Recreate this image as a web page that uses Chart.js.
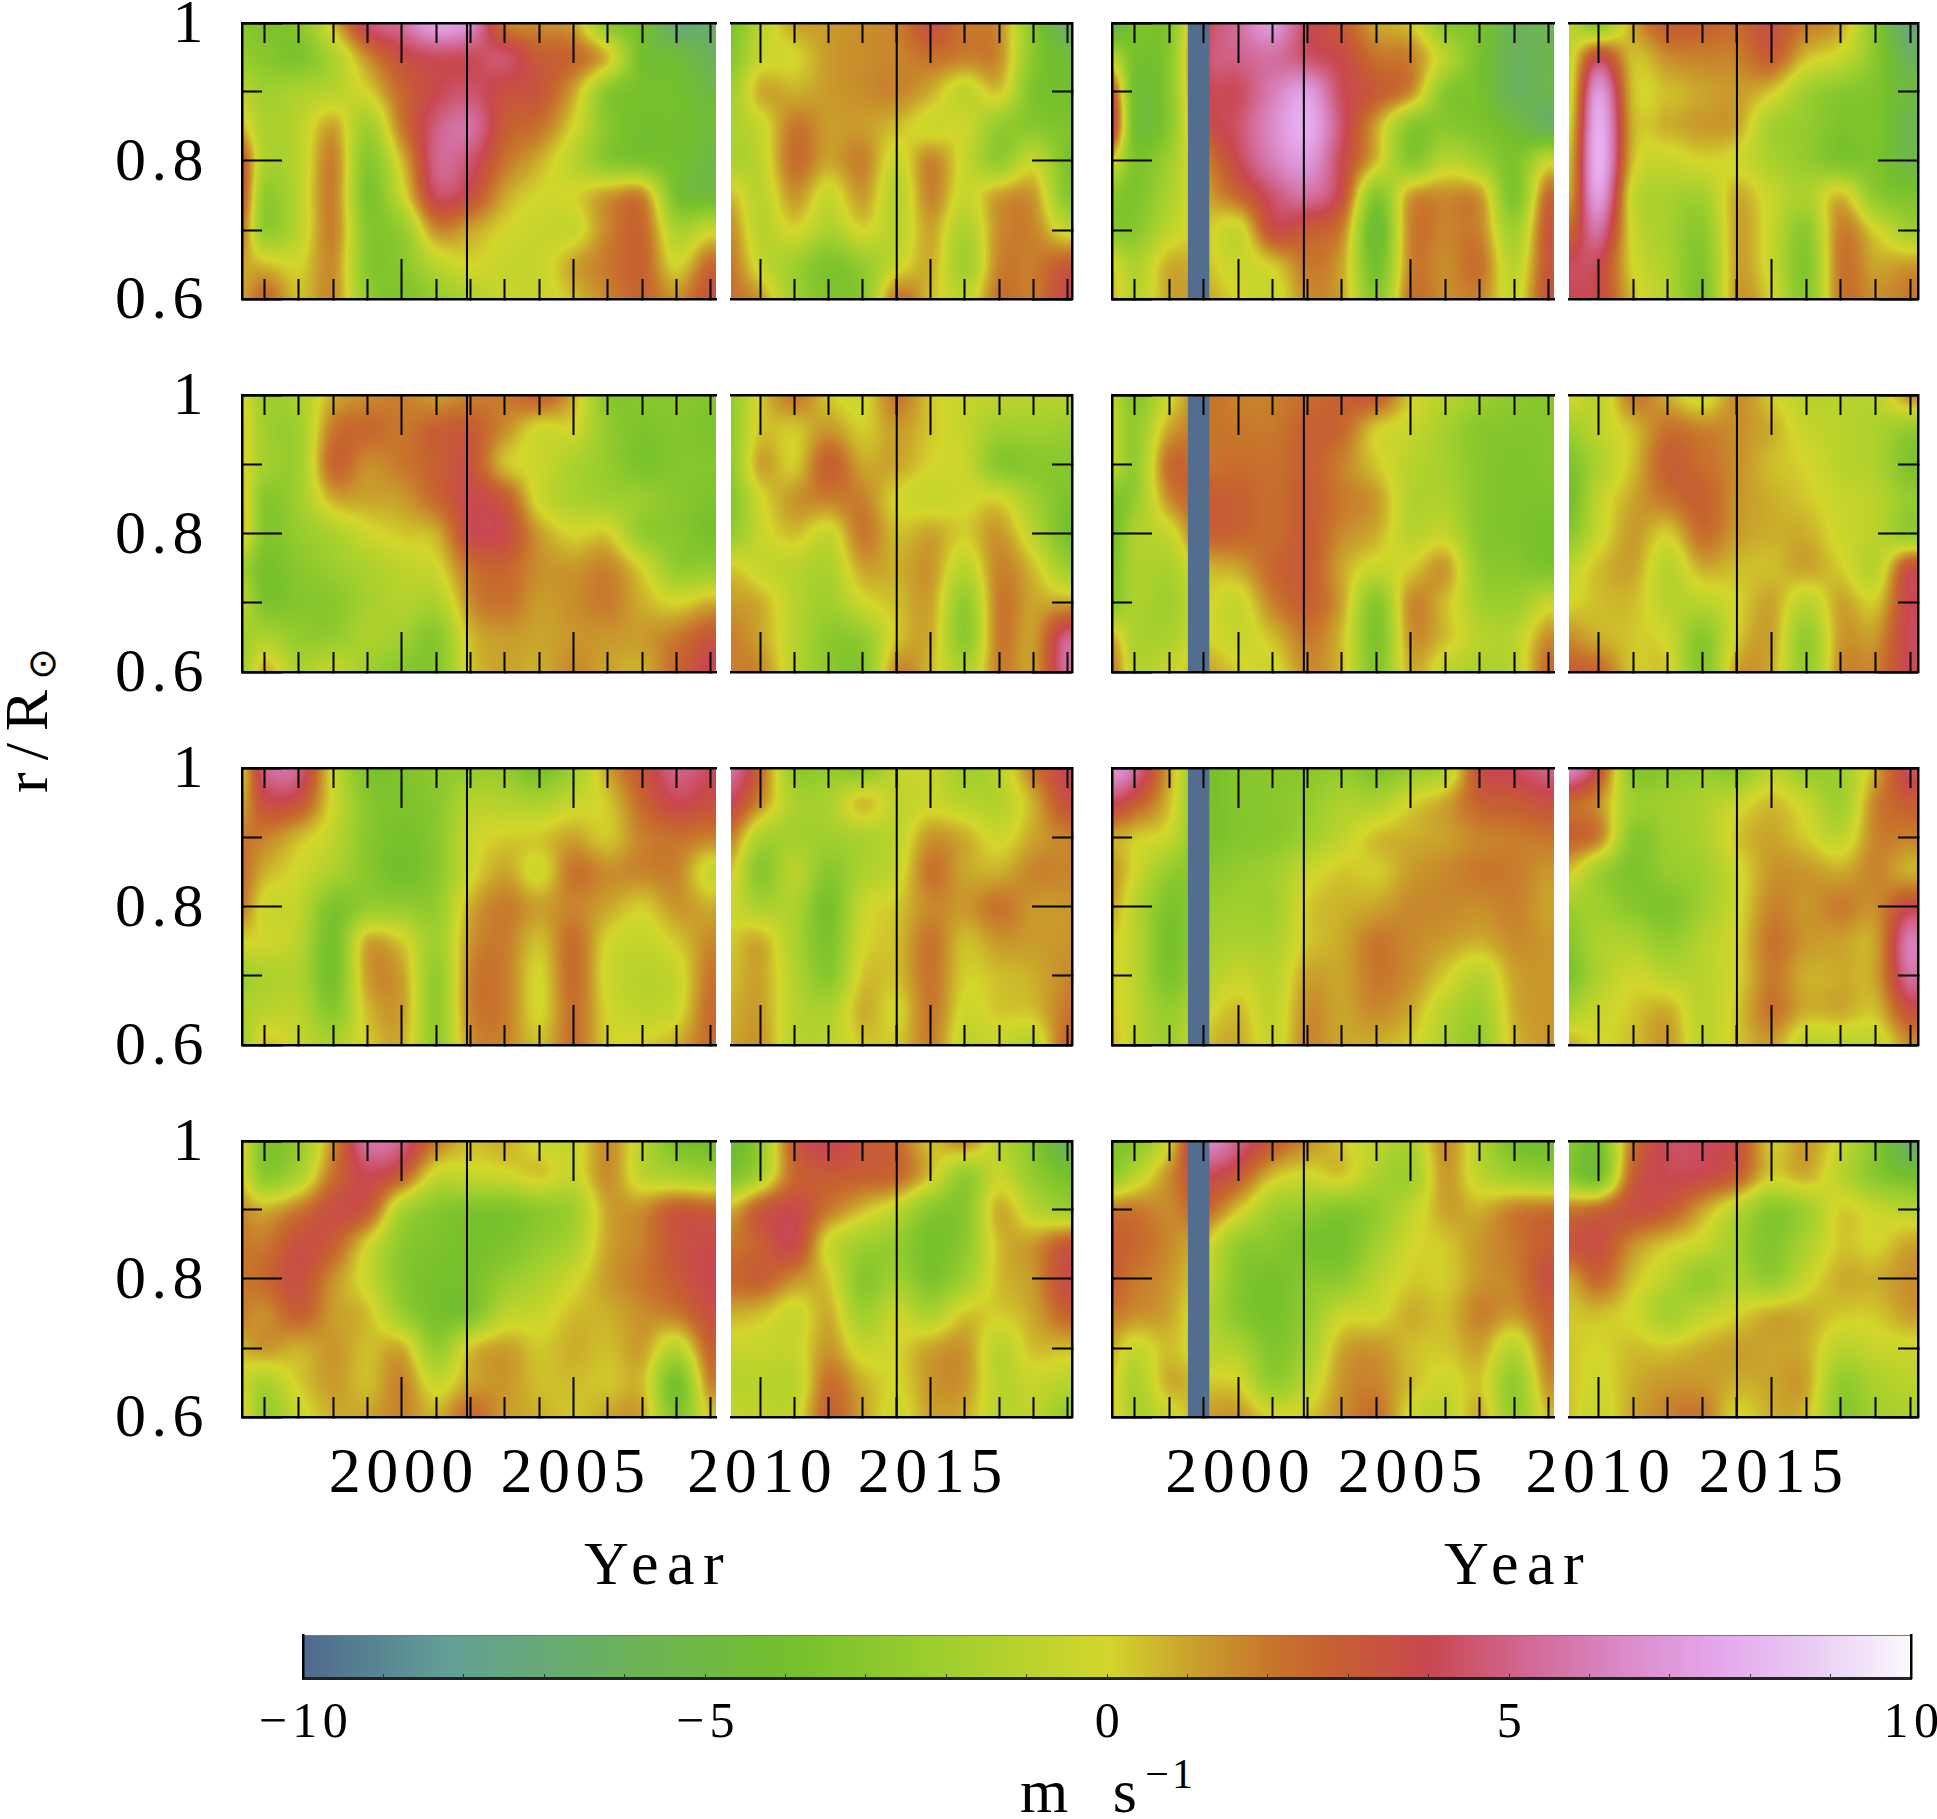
<!DOCTYPE html>
<html>
<head>
<meta charset="utf-8">
<style>
body { margin:0; background:#fff; width:1937px; height:1819px; overflow:hidden; position:relative; }
canvas { position:absolute; }
.lab { position:absolute; font-family:"Liberation Serif"; font-size:62px; letter-spacing:8.5px; color:#000; line-height:1; white-space:nowrap; }
.lab sup { font-size:42px; vertical-align:baseline; position:relative; top:-24px; letter-spacing:3px; }
.lab sub { font-family:"DejaVu Sans"; font-size:38px; vertical-align:baseline; position:relative; top:8px; left:-2px; }
</style>
<script src="https://cdn.jsdelivr.net/npm/chart.js@4"></script>
</head>
<body>
<div class="lab" id="ylab" style="left:0;top:0;transform-origin:0 0;transform:translate(-5px,793px) rotate(-90deg);letter-spacing:12px">r/R<sub>⊙</sub></div>
<div class="lab" style="left:584px;top:1532px">Year</div>
<div class="lab" style="left:1444px;top:1532px">Year</div>
<div class="lab" style="left:1020px;top:1760px;word-spacing:12px">m s<sup>−1</sup></div>
<script>
// radius rows, top to bottom
var radii = [1, 0.95, 0.9, 0.85, 0.8, 0.75, 0.7, 0.65, 0.6];
// time columns of the four kinds of panel
var leftYearsA = [1995.35, 1996, 1997, 1998, 1999, 2000, 2001, 2002, 2003, 2004, 2005, 2006, 2007, 2008, 2009];
var leftYearsB = [2009.14, 2010, 2011, 2012, 2013, 2014, 2015, 2016, 2017, 2018, 2019];
var rightYearsA = [1996.34, 1997, 1998, 1999, 2000, 2001, 2002, 2003, 2004, 2005, 2006, 2007, 2008, 2009];
var rightYearsB = [2009.15, 2010, 2011, 2012, 2013, 2014, 2015, 2016, 2017, 2018, 2019];
var cycleMaxima = [2001.9, 2014.0];
var dataGap = [1998.54, 1999.16];
var radiusTicksMinor = [0.7, 0.9];
var radiusTicksMajor = [0.6, 0.8, 1];
var yearTickLabels = [2000, 2005, 2010, 2015];
var colorTicks = [-10, -9, -8, -7, -6, -5, -4, -3, -2, -1, 0, 1, 2, 3, 4, 5, 6, 7, 8, 9, 10];
var colorTickLabels = [-10, -5, 0, 5, 10];
var colorValues = [-10, -8.2, -6, -3.9, -2, 0, 1, 2, 2.7, 4, 5.3, 6.5, 7.7, 8.8, 10];
var colorHex = ['#4f6a8f', '#62a096', '#6bb25a', '#75c02c', '#a0cf2e', '#d3d62b', '#c9a42b', '#c8772c', '#c6622f', '#c9474f', '#d26a98', '#da8cca', '#e6a9ee', '#e9cdf3', '#fbf8fe'];

// m/s
var r1LeftA = [
[-3,-3.5,-3,.5,4.5,5.5,7.5,6.5,2,1.5,1,-3,-4,-7,-6.5],
[-2.5,-3,-3.5,-1.5,1.5,3.5,4.2,4.2,4.5,3,2.5,.5,-4,-4.5,-6],
[-1,-2,-1.5,-1,0,2.5,4,4.5,3.5,3.2,1,-3,-3.8,-4,-5],
[.5,-1.5,-1,1,-2,2,4.8,5.5,3,2.2,0,-3,-4,-4,-4.5],
[3,-1.5,-1,1.8,-3,.5,5,4.5,2.2,.8,-1,-3,-3.5,-4,-5],
[3,-2.5,-1,1.8,-3.5,-.5,4.2,3.5,1,0,0,1.2,1.6,-3.8,-4.5],
[2,-2.5,-1,1.8,-3,-2.5,1.5,1,0,-.5,-.5,1.7,2.5,-1.5,-.5],
[1,.5,0,1.5,-3,-3,-1,0,-.5,-.5,1,2,2.7,0,2.5],
[1,2.5,.5,1.5,-2.5,-3.5,-2.5,-1.5,-.5,-.5,.5,1.7,2.6,1.5,3.5]];
var r1LeftB = [
[-3.5,-1,1,1.2,1.5,1.8,3.5,2,1.5,-3,-6.5],
[-3,-.5,0,1.2,1.5,1.7,2.2,1.8,1.5,-3,-4.5],
[-2,.8,.8,1.2,1.5,1.7,.8,-.8,.3,-3.5,-4],
[-1.5,-.5,2,1.2,1.2,.5,-.3,-.3,-2.5,-3,-3.5],
[-1.5,-.8,2.3,1,1.8,-.5,1.7,-.5,-2.5,-.5,-3.5],
[.5,-1,1.3,-.5,1.2,-1.2,1.7,-.5,1.1,1.2,-3],
[1.5,-1,0,-1.5,0,-1,1,-1.5,1.5,1.7,-.5],
[2,-.5,-2,-3.5,-2.5,-.5,.8,-2,1.7,1.9,3],
[2.2,1.2,-2,-3.3,-3,2,.5,-.8,2.2,1.9,4]];
var r1RightA = [
[-6,-3.5,-3.2,3.5,5.5,7,4.2,3,1,.3,-3,-3.5,-6,-5.5],
[-1,-3.8,-3,4,5,5.5,4.5,3.8,2.2,1.8,-1,-3.8,-6,-5.5],
[3,-4,-3,3.5,4.2,6,7.2,4.2,3,1.5,-3,-3.8,-6,-5.5],
[4,-4,-3,3,4.5,6.5,7.8,4.5,1,-3,-3,-3.5,-4.5,-6],
[0,-3.5,-2,1.5,4,6,7,4,.5,-3,-1,-2,-3.5,-.5],
[-3,-3.5,-1.5,.8,2.5,4.5,5.5,3.5,-3,1.1,1.5,1.2,-3.5,2.5],
[-3,-3,-.8,.3,-.5,3.5,3,1.8,-4.5,1.7,1.7,1.7,-2,3.2],
[0,-1.5,.8,.5,-.5,.3,2,1,-4,1.7,1.5,2.2,-1,3.2],
[.5,-1,1,1,0,-.5,1.5,1,-3,2.1,1.5,1.7,-.5,3.5]];
var r1RightB = [
[-1,-3,1,3,2.8,2.5,3.5,2,1,-3,-7.5],
[-.5,3.8,.5,1.5,1.8,1.8,2.8,.5,-.5,-3,-6],
[-.5,7,.5,.5,1,1.2,.3,-2,-3,-3.5,-5],
[0,7.8,.8,.8,1.2,1,-1.8,-2.5,-3.5,-3.5,-5.5],
[.5,8,.5,-.5,0,-.2,-1.5,-2.5,-3.5,-3.5,-5],
[1,7.2,-.5,-1.5,-1.8,.8,-.5,-1.5,.5,-2.8,-3.5],
[2.5,5.5,-.3,-1.8,-2.8,1,-.5,-2.8,1.8,0,-2],
[4.2,4,0,-1.5,-3.2,1,-.5,-3.2,2,1,1.2],
[4,3.8,.5,-1.2,-3.5,1.2,0,-3,2,1.5,2]];

var r2LeftA = [
[.2,-2,-1.5,.8,1.5,1.8,1.2,1.8,2,2.8,.8,-3,-3,-3,-3.2],
[.3,-2,-2,2,2.5,2,2.8,3,1.5,-.2,-.2,-2.5,-3.5,-3.2,-3.6],
[.3,-1.8,-2,2.5,1.5,2,2.8,3.3,.5,-.3,-1.5,-2.5,-3.6,-3.2,-3.2],
[.5,-3,-2,.8,1,1.2,2.5,3.8,3,-.3,-1.5,-2,-2.3,-3,-3.5],
[.5,-3.2,-2.5,-1.5,-.3,.3,.8,3.7,3.7,1.2,0,.2,-2.5,-3,-3.8],
[-2,-3.8,-3,-2.2,-1.5,-.8,-.2,2.2,2.6,1.5,1.3,1.7,0,-2.5,-2.5],
[-1,-3.5,-3.2,-3,-1.8,-1.2,-1.5,1.5,2.2,1.2,1.5,1.9,.8,0,.8],
[-2,-1.5,-2.5,-2.5,-1.5,-2,-3,.5,1.2,1,1.3,1.3,1.2,2,3.2],
[-2,.8,-1.5,-.5,-2,-3,-3.2,.3,1,.8,1.6,1,.8,2.5,4.2]];
var r2LeftB = [
[-2.5,.2,2,.3,-.2,2,.3,-.5,-.8,-1,-1.2],
[-2.5,.3,.3,1.3,.2,1.2,.3,-.6,-2,-2,-2.2],
[-2.5,1,.2,2.8,1,1,0,-.5,-3,-3,-3],
[-3,-.2,1.3,1.8,1.8,0,-.5,-.2,0,-2,-3.5],
[-2.5,-.5,.5,-.5,2,.5,1,.2,1.3,-1,-3.8],
[.3,-.5,-1,-1.5,1,.8,1.3,-1,1.7,.5,-2],
[1.2,.8,-1,-2,-.3,.5,1,-2.5,1.9,1,1],
[1.8,1,-1,-2.8,-2.5,.3,.8,-2.8,1.9,1.2,5],
[1.8,1.6,-1,-2.8,-3.2,1.5,.5,-1.5,1.8,1.2,5.5]];
var r2RightA = [
[-.8,-3,-.3,2,1.8,1.8,2.3,2.8,3,.2,-1,-2,-2.8,-3.2],
[-.8,-2.5,1,2,2,2,2.8,2.5,.2,-.5,-1.8,-3,-3.2,-3.2],
[-.8,-2.5,2.3,2.2,2.3,2.2,2.8,1.8,.3,-1,-1.8,-3,-3.5,-3.2],
[-3.5,-2.5,1.5,2.8,2.8,2.3,3,2,1.2,-1.2,-1.5,-3,-3.5,-3.5],
[-4,-1.5,-.5,2.5,2.6,2.3,3,1.6,.8,-1,-.6,-3,-3.5,-3.8],
[-3.5,-1.5,-1.5,.5,1,2.5,3,1,-.5,.2,1.2,-2.5,-3,-3.5],
[-3,-1.5,-2,0,-.5,1.8,2.8,1,-3,1.5,.5,-1.8,-2.2,-.5],
[.8,-1.5,-1.5,0,-.5,.5,2,.5,-3.5,1.3,.5,-1,-1,1.5],
[2,-1,-.5,1,.2,-.3,1.5,.5,-3.2,.8,-.8,-1.5,-1,2.5]];
var r2RightB = [
[0,-1,2,.8,-.5,1.5,.2,-1,-1,-1,1.5],
[-2,-.8,.5,2.2,1.8,1.5,.8,-.5,-1,-1.5,-2.5],
[-3.5,-1.5,.5,2.8,2.3,1.5,.5,0,-1,-1.5,-3.5],
[-4,-.8,1,2.1,2.8,1.4,.8,.3,-.5,-1,-2.5],
[-3,-.5,1.2,.2,2.3,1.2,.8,.8,-.3,-1,-2.5],
[-.8,.5,1,-1,.8,.5,.5,1,.2,-1,3.5],
[0,.5,.5,-1,-1,0,1,-1,1,.3,4],
[1.5,.8,.3,-.3,-3,.2,1,-2.5,1.2,1.3,4.2],
[2.8,2.5,.3,.2,-3.2,1,.8,-2.5,1.5,1.8,4.2]];

var r3LeftA = [
[.2,5,5,-.3,-3.5,-3.5,-2.8,-2.5,-2.5,-3.8,-2,1,3.2,5,4.2],
[1,3.5,3.3,-.2,-3,-3.5,-3,-1.2,-1.2,-1.5,-.5,.3,2.5,4,3.5],
[2,1.8,.6,-.8,-3,-3.8,-3,-.5,.2,.3,1,.3,1.8,2.2,1.8],
[2.2,.8,-.2,-1.5,-3,-4,-3,-.3,1,-.2,2.1,1.5,1.7,1.7,-.5],
[1.8,-.3,-.8,-3.5,-2.5,-2.5,-2.5,.8,1.9,1.1,1.7,1,.2,1.3,.8],
[0,-.2,-1,-3.8,.8,.2,-2,1.3,1.9,.5,2.3,0,-.6,.3,1.6],
[-2,-1.5,-1.5,-3.8,1.1,1.1,-2.5,1.7,1.9,0,2.4,-.3,-1,-.5,2.1],
[-1.5,-1,-1,-3,.5,1.1,-2.5,1.7,1.9,0,2.2,0,-.8,-.3,2.4],
[-2,.3,-.5,-1.5,.2,.8,-2.5,1.3,1.7,.5,2.2,.2,.2,.8,2.4]];
var r3LeftB = [
[5.5,2.5,-2.5,-2.5,-3,-.8,-.5,-2,-1,2,4.2],
[4,1.5,-1.5,-1.5,.5,-.8,-.3,-1,-1.2,.8,3.5],
[1.8,-1.5,-1.8,-2,-1.5,-.8,1.3,.8,-.3,1,1.8],
[.3,-3,-1,-3,-1.5,-.5,2.1,1,.8,1.7,1.7],
[-.3,-1.5,-1.5,-3.8,-.5,.3,1.6,1.3,2.1,1.3,1.3],
[.3,.8,-1.5,-3.5,-.2,.5,2.1,.5,1.3,1.2,1.3],
[.5,1,-1.2,-3,.3,.5,2.1,.2,.5,.8,1.6],
[.8,1.1,-1,-1.5,.8,0,2,-.2,.3,.5,2],
[1,1.3,-1,-1,.3,.3,1.8,-.8,-.5,-1,2.6]];
var r3RightA = [
[7,5.5,1,-3.5,-3.2,-3,-3,-2.5,-3.5,-2.5,-1.5,3.5,4.2,5],
[4.2,3,.5,-3.5,-3.2,-3,-2.5,-1.5,-1.5,0,1,2.7,3,3.5],
[1,.3,-.5,-3.5,-3.2,-3,-2,-.8,.5,.8,1.1,1.7,1.9,2.1],
[1.3,-.2,-2.5,-3,-2.5,-2,-.5,.3,.2,1.2,1.6,2,1.9,1.3],
[1,-1,-3.5,-2.5,-2,-2,.2,.7,1,1.6,1.6,1.5,1.8,1],
[.2,-1,-3.8,-2,-1.5,-1.5,.3,.9,2,1.6,1.2,.8,1.5,1.3],
[.2,-1,-3.5,-1.5,-.5,-1,1,1,2,1.5,.2,-1,1,1.3],
[.3,-.8,-2.5,-.5,.5,-.8,1.5,1,1.6,.9,-1,-2,.8,1.3],
[.5,-.8,-2,.3,.9,-.5,1.6,.9,.8,.2,-1.5,-2.5,.5,1.3]];
var r3RightB = [
[6.5,3.5,-3,-3,-2.5,-3,-1,-2.5,-2,.8,4.5],
[2.5,1.5,-2,-2,-1.5,-.5,.5,-.5,-2,1.7,3],
[2.7,1.8,-3,-2.2,-1.5,.3,1,.2,-.8,1.7,1.8],
[.3,-2,-3.5,-2.5,-2,-.3,1.3,1.3,.9,1.7,.8],
[-2,-2,-3,-3.5,-2,-.3,1.7,1.3,1.9,1.5,3.8],
[-3,-1.5,-1.5,-2.5,-1.2,0,2.1,1.3,1.1,1.1,6],
[-3.5,-1.5,-.2,-1,-1,0,1.9,.8,.9,1.1,5.5],
[-1.5,-.5,.3,.8,-1,.3,2.1,.8,.9,.5,3.5],
[.8,0,.5,1.3,-.8,.3,1.1,-1,-1,-.8,1.5]];

var r4LeftA = [
[.2,-3.5,-2.5,1.5,5.5,5,2,.5,.8,-.3,-.5,1.5,-1,-3.5,-4],
[0,-2.8,-1.5,2.2,4,2.8,-.5,-.5,-.3,.3,-.5,1.5,-.8,-1.5,-2],
[1.5,.8,2,3.5,3,-1.5,-3,-3.5,-3.5,-2.8,-2,1,1.5,3,2.8],
[2,2,3.5,2.8,0,-2.8,-3.5,-3.8,-3.5,-2.5,-1.5,1,1.8,3.3,3.8],
[2,2.5,3.5,1.5,-.5,-3,-3.8,-3.8,-2.5,-1.5,-.3,1.2,2,3,4],
[1.8,1.5,2.8,1.2,.5,-2.2,-3.8,-3.5,-1,-.5,.5,.8,1.5,2,3.5],
[.8,1.3,.8,1.3,.5,.8,-2.5,.3,1.1,.3,.8,.5,1.1,-1,2.7],
[-.5,-1.5,.2,1.2,.5,1.7,-.5,1,1.3,.5,.5,.3,.5,-3.8,1.8],
[.3,-2.5,-.5,.8,1,1.7,.8,2.5,1.2,.8,.3,1,1,-3.2,.3]];
var r4LeftB = [
[-4.5,-2.5,3,4.2,3.2,2.5,.5,1.5,-1,-3,-6],
[-3.5,-1.5,2.5,3,2.8,2.5,.3,-2.5,-.5,-2.5,-3.8],
[.8,3,3.8,2,.5,-.8,-3,-3,.8,-1,-2],
[2,2.8,3.8,-.3,-2,-2.5,-3.8,-2.8,.5,1.3,3],
[2.5,2.8,1.5,.3,-3,-2,-3.5,-2,.5,1.3,3.7],
[.8,.5,-.5,.8,-2,-.5,-1.5,.3,.2,1,2.7],
[-.5,-.5,-.5,1.3,-.5,0,1,1.3,-1,.5,.5],
[-1,-1,-1,2.2,.8,0,1.3,1.3,-1,-.5,-1],
[-.5,-.8,-.5,2.7,1.1,-.3,1,.8,-1,-.8,-2.5]];
var r4RightA = [
[-3.5,-3,0,6,5,3,1.5,.3,-.8,-1.5,1.5,-1.2,-3.8,-4],
[-2.5,-1,1.5,4,3,.5,-.2,.3,-1.5,-2,1.2,-.8,-2,-2.5],
[2,2,1.6,2.5,.3,-2,-2.5,-3.2,-2.5,-.8,1,.8,1.8,2.2],
[2.8,2.5,1.6,.3,-2.5,-3,-3.8,-3.8,-2,-.2,.3,1.3,2,3],
[2.8,2,1.3,-.3,-3,-3.8,-3,-2.8,-1,.2,.2,1.3,1.8,3.5],
[2,1.5,1,-1,-3,-3.8,-2.5,-.5,-.2,.8,.5,1.8,1.3,2.8],
[.8,-.5,.5,-.8,-1.5,-3.3,-2,.9,1.3,.5,.3,1,-1,2.2],
[.3,-1.5,.8,.3,0,-2.5,-1,1.3,1.7,.5,-.3,.3,-2.5,1.5],
[.3,-1.5,-.5,1,1.3,0,.3,1.5,2.2,-.2,-1,.8,-2.5,.5]];
var r4RightB = [
[-3,-3.8,2,4.2,4.2,3.5,.3,1.2,-.5,-3,-6.5],
[-3,-3.8,2.8,4,3.8,2.8,.2,.8,-1,-3,-4],
[2,2.5,3.5,3,1,-1,-3,-2,.2,-.5,-1],
[3.2,3.5,1.5,.3,-.5,-2,-3.2,-1.5,.3,0,1],
[1,2.5,.5,-1,-2.5,-1.5,-2.5,-.5,.8,.8,1.5],
[.3,.5,-.2,-1.8,-.8,0,.8,.8,.3,.3,1.2],
[.3,0,.5,.3,.8,1.1,1,.8,-1,-.5,-.3],
[.3,-.2,.8,1.3,1.3,.8,1,1,-2.5,-1.5,-1],
[.3,-.5,1,1.8,2,0,.8,.5,-3,-2,-1.5]];

var colorRgb = colorHex.map(function (h) {
  return [parseInt(h.slice(1, 3), 16), parseInt(h.slice(3, 5), 16), parseInt(h.slice(5, 7), 16)];
});

function colorOf(v) {
  var n = colorValues.length;
  if (v <= colorValues[0]) return colorRgb[0];
  if (v >= colorValues[n - 1]) return colorRgb[n - 1];
  var i = 0;
  while (v > colorValues[i + 1]) i++;
  var t = (v - colorValues[i]) / (colorValues[i + 1] - colorValues[i]);
  var a = colorRgb[i], b = colorRgb[i + 1];
  return [a[0] + (b[0] - a[0]) * t, a[1] + (b[1] - a[1]) * t, a[2] + (b[2] - a[2]) * t];
}

function findCell(list, v) {
  // list is monotonic, up or down
  var sign = list[1] > list[0] ? 1 : -1;
  var i = 0;
  while (i < list.length - 2 && sign * v > sign * list[i + 1]) i++;
  var t = (v - list[i]) / (list[i + 1] - list[i]);
  return [i, Math.max(0, Math.min(1, t))];
}

function cubic(a, b, c, d, t) {
  return b + 0.5 * t * (c - a + t * (2 * a - 5 * b + 4 * c - d + t * (3 * (b - c) + d - a)));
}

function shade(g, r, rt, c, ct) {
  var nr = g.length - 1, nc = g[0].length - 1, vals = [];
  for (var k = -1; k <= 2; k++) {
    var row = g[Math.max(0, Math.min(nr, r + k))];
    vals.push(cubic(row[Math.max(0, c - 1)], row[c], row[c + 1], row[Math.min(nc, c + 2)], ct));
  }
  return cubic(vals[0], vals[1], vals[2], vals[3], rt);
}

// paints the cells of the panel behind the datasets, positions come from the scales
var heatPlugin = {
  id: 'heat',
  beforeDatasetsDraw: function (chart, args, opts) {
    if (!opts.grid) return;
    var area = chart.chartArea, sx = chart.scales.x, sy = chart.scales.y, ctx = chart.ctx;
    var x0 = Math.round(area.left), y0 = Math.round(area.top);
    var w = Math.round(area.right) - x0, h = Math.round(area.bottom) - y0;
    var off = document.createElement('canvas');
    off.width = w; off.height = h;
    var octx = off.getContext('2d');
    var img = octx.createImageData(w, h);
    for (var py = 0; py < h; py++) {
      var rc = findCell(radii, sy.getValueForPixel(y0 + py + 0.5));
      for (var px = 0; px < w; px++) {
        var yc = findCell(opts.years, sx.getValueForPixel(x0 + px + 0.5));
        var col = colorOf(shade(opts.grid, rc[0], rc[1], yc[0], yc[1]));
        var k = (py * w + px) * 4;
        img.data[k] = col[0]; img.data[k + 1] = col[1]; img.data[k + 2] = col[2]; img.data[k + 3] = 255;
      }
    }
    octx.putImageData(img, 0, 0);
    ctx.drawImage(off, x0, y0);
    if (opts.gap) {
      var ga = sx.getPixelForValue(dataGap[0]), gb = sx.getPixelForValue(dataGap[1]);
      ctx.fillStyle = '#536d8f';
      ctx.fillRect(ga, y0, gb - ga, h);
    }
  }
};

// colorbar fill from the same stops
var barPlugin = {
  id: 'bar',
  beforeDatasetsDraw: function (chart, args, opts) {
    if (!opts.on) return;
    var a = chart.chartArea, sx = chart.scales.x, ctx = chart.ctx;
    var grad = ctx.createLinearGradient(sx.getPixelForValue(-10), 0, sx.getPixelForValue(10), 0);
    colorValues.forEach(function (v, i) { grad.addColorStop((v + 10) / 20, colorHex[i]); });
    ctx.fillStyle = grad;
    ctx.fillRect(a.left, a.top, a.right - a.left, a.bottom - a.top);
  }
};

var spacingPlugin = {
  id: 'spacing',
  // scales are fitted to zero size, labels get clipped to the box unless it is opened up again
  afterLayout: function (chart) {
    Object.keys(chart.scales).forEach(function (id) {
      var s = chart.scales[id];
      if (!s.options.ticks.display) return;
      if (s.options.position == 'bottom') { s.bottom = chart.height; s.height = s.bottom - s.top; }
      if (s.options.position == 'left') { s.left = 0; s.width = s.right; }
    });
  },
  beforeDraw: function (chart) { chart.ctx.letterSpacing = '5.5px'; }
};

Chart.register(heatPlugin, barPlugin, spacingPlugin);

function tickAxis(position, min, max, values, len, borderOn, labels, labelSize, labelPad, labelShift) {
  var horizontal = position == 'top' || position == 'bottom';
  return {
    type: 'linear', position: position, min: min, max: max,
    afterBuildTicks: function (s) { s.ticks = values.map(function (v) { return { value: v }; }); },
    afterFit: function (s) {
      if (horizontal) s.height = 0; else s.width = 0;
      s.paddingLeft = s.paddingRight = s.paddingTop = s.paddingBottom = 0;
    },
    grid: { drawOnChartArea: false, drawTicks: true, tickLength: -len, tickColor: '#000', tickWidth: 2, z: 1 },
    border: { display: borderOn, color: '#000', width: 2.5, z: 1 },
    ticks: {
      display: !!labels,
      autoSkip: false, maxRotation: 0, minRotation: 0,
      padding: labelPad || 0,
      labelOffset: labelShift || 0,
      color: '#000',
      font: { family: 'Liberation Serif', size: labelSize || 62 },
      callback: function (v) { return labels && labels.indexOf(v) >= 0 ? String(v) : ''; }
    }
  };
}

function addPanel(o) {
  var padL = o.yLabels ? 205 : 60, padR = 60, padT = 30, padB = o.xLabels ? 90 : (o.yLabels ? 45 : 10);
  var canvas = document.createElement('canvas');
  canvas.width = o.right - o.left + padL + padR;
  canvas.height = o.bottom - o.top + padT + padB;
  canvas.style.left = (o.left - padL) + 'px';
  canvas.style.top = (o.top - padT) + 'px';
  document.body.appendChild(canvas);

  var ints = [];
  for (var y = Math.ceil(o.min); y <= o.max; y++) ints.push(y);
  var majors = ints.filter(function (y) { return yearTickLabels.indexOf(y) >= 0; });
  var minors = ints.filter(function (y) { return yearTickLabels.indexOf(y) < 0; });
  var sideY = o.side;

  var cells = [];
  radii.forEach(function (r, i) {
    o.years.forEach(function (yr, j) { cells.push({ x: yr, y: r, v: o.grid[i][j] }); });
  });

  new Chart(canvas, {
    type: 'scatter',
    data: {
      datasets: [
        { label: 'cells', data: cells, pointRadius: 0, showLine: false, xAxisID: 'x', yAxisID: 'y' },
        { label: 'cycle maximum', data: [{ x: o.maxYear, y: 0.6 }, { x: o.maxYear, y: 1 }], showLine: true, borderColor: '#000', borderWidth: 2, pointRadius: 0, xAxisID: 'x', yAxisID: 'y' }
      ]
    },
    options: {
      responsive: false, animation: false,
      layout: { padding: { left: padL, right: padR, top: padT, bottom: padB } },
      plugins: { legend: { display: false }, tooltip: { enabled: false }, heat: { grid: o.grid, years: o.years, gap: o.gap } },
      scales: {
        x: tickAxis('bottom', o.min, o.max, minors, 20, true),
        x2: tickAxis('bottom', o.min, o.max, majors, 40, false, o.xLabels ? yearTickLabels : null, 64, 60, 2),
        x3: tickAxis('top', o.min, o.max, minors, 20, true),
        x4: tickAxis('top', o.min, o.max, majors, 40, false),
        y: { min: 0.6, max: 1, type: 'linear', position: sideY, display: false },
        y2: tickAxis(sideY, 0.6, 1, radiusTicksMinor, 20, true),
        y3: tickAxis(sideY, 0.6, 1, radiusTicksMajor, 40, false, o.yLabels ? radiusTicksMajor : null, 62, 73, 3)
      }
    }
  });
}

var rowEdges = [[23, 299], [395, 672], [768, 1045], [1141, 1417]];
var rowGrids = [
  [r1LeftA, r1LeftB, r1RightA, r1RightB],
  [r2LeftA, r2LeftB, r2RightA, r2RightB],
  [r3LeftA, r3LeftB, r3RightA, r3RightB],
  [r4LeftA, r4LeftB, r4RightA, r4RightB]
];

rowEdges.forEach(function (e, i) {
  var last = i == rowEdges.length - 1;
  addPanel({ left: 242, right: 716, top: e[0], bottom: e[1], min: 1995.35, max: 2009.15, years: leftYearsA, grid: rowGrids[i][0], maxYear: cycleMaxima[0], side: 'left', yLabels: true, xLabels: last });
  addPanel({ left: 731, right: 1072, top: e[0], bottom: e[1], min: 2009.14, max: 2019.14, years: leftYearsB, grid: rowGrids[i][1], maxYear: cycleMaxima[1], side: 'right', xLabels: last });
  addPanel({ left: 1112, right: 1554, top: e[0], bottom: e[1], min: 1996.34, max: 2009.15, years: rightYearsA, grid: rowGrids[i][2], maxYear: cycleMaxima[0], side: 'left', gap: true, xLabels: last });
  addPanel({ left: 1569, right: 1918, top: e[0], bottom: e[1], min: 2009.15, max: 2019.23, years: rightYearsB, grid: rowGrids[i][3], maxYear: cycleMaxima[1], side: 'right', xLabels: last });
});

// colorbar
var barCanvas = document.createElement('canvas');
barCanvas.width = 1937;
barCanvas.height = 190;
barCanvas.style.left = '0px';
barCanvas.style.top = '1620px';
document.body.appendChild(barCanvas);
var barBottom = tickAxis('bottom', -10, 10, colorTicks, 4, true, colorTickLabels, 50, 20, 3);
barBottom.grid.tickWidth = 1;
barBottom.grid.tickColor = '#333';
barBottom.border.width = 3;
barBottom.border.color = '#222';
barBottom.ticks.callback = function (v) {
  if (colorTickLabels.indexOf(v) < 0) return '';
  return v < 0 ? '\u2212' + Math.abs(v) : String(v);
};
var barTop = tickAxis('top', -10, 10, [], 0, true);
barTop.border.width = 1;
barTop.border.color = '#777';
var barLeft = tickAxis('left', 0, 1, [], 0, true);
var barRight = tickAxis('right', 0, 1, [], 0, true);
new Chart(barCanvas, {
  type: 'scatter',
  data: { datasets: [{ label: 'scale', data: colorValues.map(function (v) { return { x: v, y: 0.5 }; }), pointRadius: 0, xAxisID: 'x', yAxisID: 'y' }] },
  options: {
    responsive: false, animation: false,
    layout: { padding: { left: 303, right: 26, top: 15, bottom: 132 } },
    plugins: { legend: { display: false }, tooltip: { enabled: false }, bar: { on: true } },
    scales: { x: barBottom, x2: barTop, y: barLeft, y2: barRight }
  }
});
</script>
</body>
</html>
